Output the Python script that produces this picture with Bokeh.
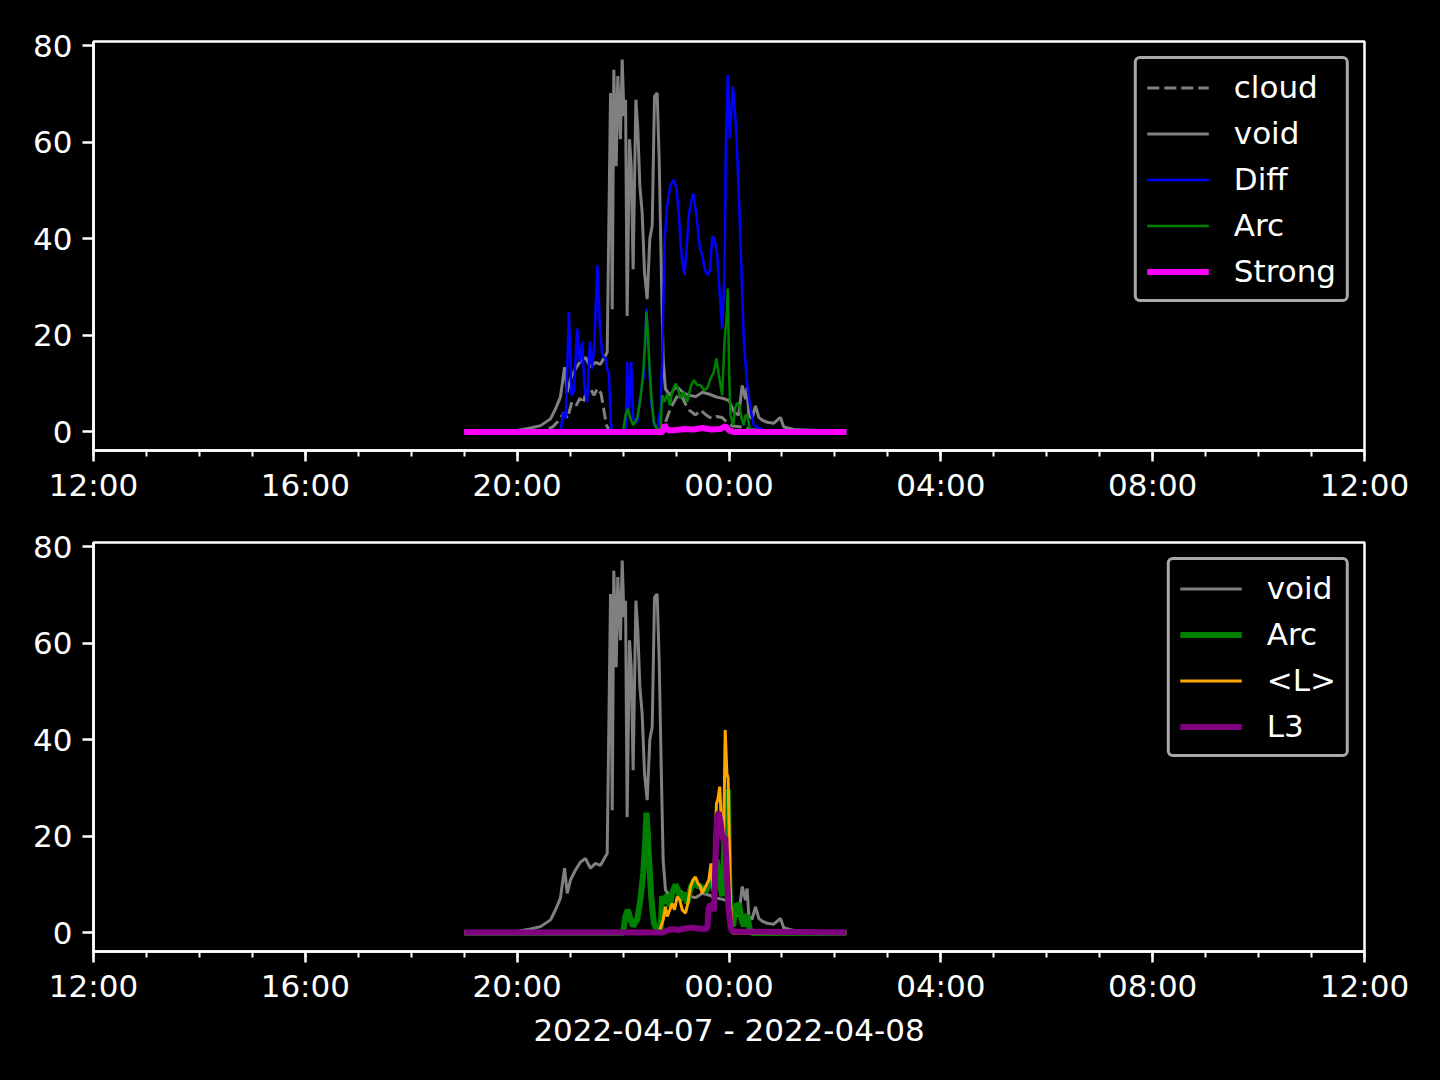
import pandas as pd
from bokeh.plotting import figure
from bokeh.layouts import column
from bokeh.models import (Range1d, FixedTicker, DatetimeTickFormatter, Legend,
                          LegendItem)
from bokeh.embed import file_html
from bokeh.resources import INLINE

# ---------------- data (minutes after 2022-04-07 19:00) ----------------
void_min = [0, 60, 75, 86.5, 97.8, 103.5, 109, 113.7, 116.7, 120.5, 126, 131.8, 137.4, 143,
            148.8, 154.4, 160, 162, 165.8, 167.7, 169.5, 172.2, 174, 177, 179, 181, 182.8,
            184.6, 187.3, 189.2, 191.4, 194.5, 196.7, 199, 201.6, 204.3, 207.3, 210.3, 213,
            215.6, 218.6, 220.9, 223.2, 225.4, 228, 233, 237.5, 242, 249, 255, 262, 270, 278,
            286, 294, 300, 306, 311, 315, 318.7, 320.5, 322.5, 326, 330, 333.8, 338, 343.2,
            350.8, 358.3, 362.1, 373.4, 400, 433]
void_val = [0.2, 0.3, 0.8, 1.3, 2.7, 4.8, 7.2, 13.4, 8.2, 11, 13, 14.7, 15.4, 13.4,
            14.4, 14, 15.8, 16.5, 70.2, 25.4, 75, 55, 73.7, 60.6, 77.1, 65.4, 68.8,
            24, 60.6, 55, 33.7, 68.8, 62.6, 51, 45.4, 33, 27.5, 40, 42.7,
            69.5, 70.2, 56.4, 34.4, 15, 8.9, 7.5, 8.9, 9.2, 8, 7.6, 7.3, 8.2, 7.8,
            7.2, 6.9, 6.5, 4, 3.5, 9.6, 6.8, 9.2, 3.4, 2.8, 5.4, 3, 2.4, 2,
            1.8, 3, 1, 0.5, 0.3, 0.3]

cloud_min = [0, 90, 100, 108, 113, 117, 122, 127, 131, 134, 139, 143, 147, 151, 155, 158,
             161, 164, 222, 228, 234, 240, 245, 250, 255, 262, 268, 274, 280, 286, 292, 298,
             304, 315, 325, 340, 433]
cloud_val = [0, 0.3, 1, 2.5, 4, 2.8, 6.2, 5.5, 7, 5.9, 8.3, 9, 7.6, 9, 8, 4.8,
             1.5, 0.3, 0.3, 2, 5, 7, 8, 6, 4.5, 3.5, 4.5, 3.5, 2.8, 3.2, 3, 2,
             1.2, 1, 0.5, 0.2, 0]

diff_min = [0, 109, 112, 115, 118.6, 121.6, 124.2, 128, 131, 133.7, 136.3, 139.3, 142.4, 145,
            147.6, 150.7, 153.7, 156.3, 160.1, 162, 164, 166, 167.5, 182.8, 184.6, 186.5,
            189.2, 191.4, 196, 199.7, 203.5, 206.5, 209.2, 211.8, 214.9, 218.6, 222.4, 224.3,
            226.9, 230, 233.7, 237.5, 240.5, 243.2, 245, 247, 249.6, 251.9, 254.5, 257.2,
            259.4, 262.1, 264.7, 267, 269.6, 272.2, 275.3, 278.3, 281, 283.6, 286.6, 289.6,
            292.3, 294.9, 296.5, 298.6, 300.9, 304.3, 305.5, 308.5, 311.1, 313, 316.8, 320.6,
            324.4, 328.1, 335.7, 341.4, 433]
diff_val = [0, 0, 4, 2.8, 24.9, 7.6, 8.3, 21.4, 14.5, 18.7, 9, 6.2, 18.7, 13.1,
            18.7, 34.5, 22.1, 15.9, 15.2, 13, 12, 2, 0, 0, 14.5, 3.5,
            14.5, 2.8, 2, 7.6, 11.7, 25.6, 15.2, 6.2, 1.4, 0.7, 4.8, 14.5,
            39.4, 47, 51.1, 52.2, 50.4, 44.9, 39.4, 35.2, 32.5, 38, 44.9, 47.7,
            49.4, 46.3, 42.1, 38, 36.6, 33.9, 32.5, 33.2, 40.4, 40.1, 36.6, 28.3,
            21.4, 32.5, 60.1, 73.9, 60.8, 71.5, 69.8, 61.2, 49, 39.4, 18.7, 9.7,
            4.8, 1.4, 0.7, 0, 0]

arc_min = [0, 180, 182.8, 185.4, 188.4, 191.4, 196, 199.7, 202.8, 205, 206.5, 208, 210.3,
           211.8, 214.9, 217.9, 222.4, 224.3, 226.9, 230, 233, 235.6, 239.4, 242, 245, 248.8,
           252.6, 257.2, 260.2, 264, 267.7, 271.5, 275.3, 279, 282.8, 285.8, 288.5, 292.3,
           294.9, 297.2, 298.7, 300.2, 301.7, 304.7, 307, 309.3, 311.9, 314.2, 316.8, 318.7,
           320.6, 323.6, 326.2, 433]
arc_val = [0, 0, 3.5, 4.8, 2.8, 1.4, 2.8, 6.9, 12.4, 18.7, 24.9, 20.7, 12.4,
           7.6, 2, 0.7, 0.3, 7.6, 6.2, 7.9, 5.5, 8.3, 10, 9, 6.9, 8.3,
           6.2, 9.7, 10.7, 9.7, 9.7, 8.6, 9, 11, 12.4, 15.2, 11.7, 7.6,
           18.7, 23.5, 29.7, 11.7, 3.5, 1.4, 5, 6, 5.5, 2.8, 1.4, 3.4,
           3.5, 0.7, 0, 0]

strong_min = [0, 225, 227, 229, 232, 240, 250, 260, 270, 280, 290, 296, 300, 305, 433]
strong_val = [0, 0, 1.5, 0.8, 0.3, 0.4, 0.6, 0.5, 0.8, 0.5, 0.6, 1.2, 0.3, 0, 0]

meanl_min = [0, 220, 222.4, 225.4, 228, 230, 233, 235.6, 238.3, 241.3, 244.3, 247, 250.7,
             253.4, 256.4, 259.4, 262.1, 264.7, 267.7, 269.6, 273.4, 277.2, 279.6, 282,
             285.8, 287.3, 289.5, 292.3, 294, 295.7, 297.6, 299, 300.5, 301.7, 303.6, 433]
meanl_val = [0, 0, 1, 2.7, 5.4, 3.4, 4.8, 6.1, 4.8, 7.5, 6.8, 4.8, 4.1,
             6.1, 9.6, 11, 11.6, 10.3, 9.6, 8.2, 9.6, 11, 14.4, 8.5,
             26.8, 27.5, 30.3, 19.2, 20, 42, 33, 32, 18, 6.8, 0, 0]

l3_min = [0, 225, 230, 236, 242, 250, 258, 265, 272, 275.5, 277, 281, 283, 284.8, 286.5,
          288.4, 290.3, 292, 294, 295.7, 297.6, 299.5, 301.7, 303.6, 433]
l3_val = [0.1, 0.1, 0.5, 0.8, 0.6, 0.9, 1.1, 0.9, 0.8, 1, 5.5, 5.8, 4.5, 15.8, 24,
          25, 23, 20.6, 19.2, 19.9, 12.3, 5, 1.3, 0.3, 0.1]

x_label = "2022-04-07 - 2022-04-08"
y_ticks = [0, 20, 40, 60, 80]

# ---------------- helpers ----------------
EPOCH = pd.Timestamp("1970-01-01")
START = pd.Timestamp("2022-04-07 19:00")


def ms(ts):
    return (ts - EPOCH) / pd.Timedelta(milliseconds=1)


def xs(mins):
    return [ms(START + pd.Timedelta(minutes=m)) for m in mins]


X0 = pd.Timestamp("2022-04-07 12:00")
X1 = pd.Timestamp("2022-04-08 12:00")
major = [ms(X0 + pd.Timedelta(hours=h)) for h in range(0, 25, 4)]
minor = [ms(X0 + pd.Timedelta(hours=h)) for h in range(0, 25)]

FONT = "DejaVu Sans"
FS = "31px"


def make_fig(height, border_top, border_bottom, xlabel=None):
    p = figure(width=1440, height=height, x_axis_type="datetime",
               output_backend="svg", toolbar_location=None,
               x_range=Range1d(ms(X0), ms(X1)), y_range=Range1d(-3.85, 80.85),
               min_border_left=93, min_border_right=76, min_border_top=border_top,
               min_border_bottom=border_bottom)
    p.background_fill_color = "black"
    p.border_fill_color = "black"
    p.outline_line_color = "white"
    p.outline_line_width = 2.5
    p.grid.visible = False
    p.xaxis.ticker = FixedTicker(ticks=major, minor_ticks=minor)
    p.xaxis.formatter = DatetimeTickFormatter(
        microseconds="%H:%M", milliseconds="%H:%M", seconds="%H:%M", minsec="%H:%M",
        minutes="%H:%M", hourmin="%H:%M", hours="%H:%M", days="%H:%M",
        months="%H:%M", years="%H:%M")
    p.yaxis.ticker = FixedTicker(ticks=y_ticks, minor_ticks=[])
    for ax in (p.xaxis[0], p.yaxis[0]):
        ax.axis_line_color = "white"
        ax.axis_line_width = 2.5
        ax.major_tick_line_color = "white"
        ax.major_tick_line_width = 2.5
        ax.major_tick_out = 11
        ax.major_tick_in = 0
        ax.minor_tick_line_color = "white"
        ax.minor_tick_line_width = 2
        ax.minor_tick_out = 6
        ax.minor_tick_in = 0
        ax.major_label_text_color = "white"
        ax.major_label_text_font = FONT
        ax.major_label_text_font_size = FS
        ax.major_label_standoff = 10
    p.xaxis.major_label_standoff = 5
    p.yaxis.minor_tick_line_color = None
    if xlabel:
        p.xaxis.axis_label = xlabel
        p.xaxis.axis_label_text_color = "white"
        p.xaxis.axis_label_text_font = FONT
        p.xaxis.axis_label_text_font_size = FS
        p.xaxis.axis_label_text_font_style = "normal"
        p.xaxis.axis_label_standoff = 5
    return p


def add_legend(p, items):
    leg = Legend(items=items, location="top_right", margin=15, padding=10,
                 spacing=10, glyph_width=62, glyph_height=31, label_height=31,
                 label_standoff=25, label_text_font=FONT, label_text_font_size=FS,
                 label_text_color="white", background_fill_color="black",
                 background_fill_alpha=0.8, border_line_color="#a8a8a8",
                 border_line_alpha=1.0, border_line_width=3)
    try:
        leg.border_radius = 6
    except Exception:
        pass
    p.add_layout(leg)


# ---------------- top panel ----------------
p1 = make_fig(509, 41, 59)
r_cloud = p1.line(xs(cloud_min), cloud_val, line_color="gray", line_width=3, line_dash="12 5")
r_void = p1.line(xs(void_min), void_val, line_color="gray", line_width=3)
r_diff = p1.line(xs(diff_min), diff_val, line_color="blue", line_width=2.5)
r_arc = p1.line(xs(arc_min), arc_val, line_color="green", line_width=2.5)
r_strong = p1.line(xs(strong_min), strong_val, line_color="magenta", line_width=6)
add_legend(p1, [LegendItem(label="cloud", renderers=[r_cloud]),
                LegendItem(label="void", renderers=[r_void]),
                LegendItem(label="Diff", renderers=[r_diff]),
                LegendItem(label="Arc", renderers=[r_arc]),
                LegendItem(label="Strong", renderers=[r_strong])])

# ---------------- bottom panel ----------------
p2 = make_fig(571, 33, 129, xlabel=x_label)
b_void = p2.line(xs(void_min), void_val, line_color="gray", line_width=3)
b_arc = p2.line(xs(arc_min), arc_val, line_color="green", line_width=6)
b_l = p2.line(xs(meanl_min), meanl_val, line_color="orange", line_width=3)
b_l3 = p2.line(xs(l3_min), l3_val, line_color="purple", line_width=6)
add_legend(p2, [LegendItem(label="void", renderers=[b_void]),
                LegendItem(label="Arc", renderers=[b_arc]),
                LegendItem(label="<L>", renderers=[b_l]),
                LegendItem(label="L3", renderers=[b_l3])])

layout = column(p1, p2, spacing=0, background="black")
html = file_html(layout, INLINE)
html = html.replace("</head>",
                    "<style>html, body { background-color: #000 !important; }</style></head>", 1)
open("out.html", "w").write(html)
